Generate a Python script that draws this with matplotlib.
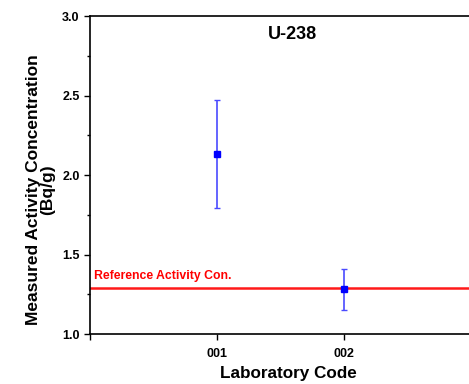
import matplotlib
matplotlib.use("Agg")
import matplotlib.pyplot as plt
from matplotlib.ticker import MultipleLocator

plt.rcParams['font.family'] = ['Liberation Sans', 'DejaVu Sans']
plt.rcParams['font.weight'] = 'bold'

labs = ['001', '002']
lab_pos = [1, 2]
conc = [2.13, 1.28]
unc = [0.34, 0.13]
ref_value = 1.29

fig = plt.figure(figsize=(4.69, 3.84), dpi=100)
ax = fig.add_axes([0.1919, 0.1302, 0.8125, 0.8281])

ax.axhline(ref_value, color='#ff0000', lw=1.8, alpha=0.9, zorder=1)
ax.errorbar(lab_pos, conc, yerr=unc, fmt='s', color='#0000ff', ms=5,
            ecolor='#4a4aff', elinewidth=1.2, capsize=2, capthick=1, zorder=3)

ax.text(0.03, ref_value + 0.04, 'Reference Activity Con.', color='#ff0000',
        fontsize=8.8, fontweight='bold', va='bottom', ha='left')
ax.text(0.53, 0.97, 'U-238', transform=ax.transAxes, ha='center', va='top',
        fontsize=13, fontweight='bold')

ax.set_xlim(0, 3)
ax.set_ylim(1.0, 3.0)
ax.set_xticks([0] + lab_pos)
ax.set_xticklabels([''] + labs)
ax.yaxis.set_major_locator(MultipleLocator(0.5))
ax.yaxis.set_minor_locator(MultipleLocator(0.25))
ax.tick_params(axis='both', which='major', direction='out', length=4, width=1,
               labelsize=9)
ax.tick_params(axis='x', which='major', pad=6)
ax.tick_params(axis='y', which='minor', direction='out', length=2.5, width=1)
for lbl in ax.get_xticklabels() + ax.get_yticklabels():
    lbl.set_fontweight('bold')
for s in ax.spines.values():
    s.set_linewidth(1.2)

ax.set_ylabel('Measured Activity Concentration\n(Bq/g)', fontsize=12.5,
              fontweight='bold', linespacing=0.9)
ax.yaxis.set_label_coords(-0.092, 0.453)
ax.set_xlabel('Laboratory Code', fontsize=12.3, fontweight='bold')
ax.xaxis.set_label_coords(0.52, -0.102)

fig.savefig('out.png', dpi=100)
